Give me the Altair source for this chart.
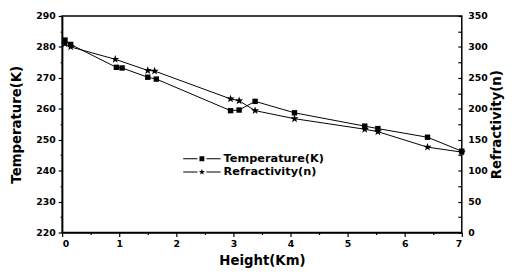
import altair as alt
import pandas as pd

# Temperature series (squares, left axis)
height_t = [0.05, 0.15, 0.95, 1.05, 1.5, 1.65, 2.95, 3.1, 3.38, 4.07, 5.3, 5.53, 6.4, 7.0]
temperature = [282.2, 280.8, 273.4, 273.2, 270.2, 269.6, 259.4, 259.6, 262.4, 258.7, 254.4, 253.6, 250.8, 246.3]

# Refractivity series (stars, right axis)
height_n = [0.05, 0.15, 0.93, 1.5, 1.62, 2.95, 3.1, 3.38, 4.07, 5.3, 5.53, 6.4, 7.0]
refractivity = [305, 300, 280, 262, 261, 216, 213, 197, 184, 167, 163, 138, 130]

legend_labels = ["Temperature(K)", "Refractivity(n)"]

x_ticks = [i * 0.5 for i in range(15)]
t_ticks = [220 + 5 * i for i in range(15)]
n_ticks = [25 * i for i in range(15)]

df_t = pd.DataFrame({"h": height_t, "v": temperature})
df_n = pd.DataFrame({"h": height_n, "v": refractivity})
df_leg = pd.DataFrame({"label": legend_labels})

FONT = "DejaVu Sans"
STAR = ("M0,-1L0.235,-0.324L0.951,-0.309L0.380,0.124L0.588,0.809L0,0.4"
        "L-0.588,0.809L-0.380,0.124L-0.951,-0.309L-0.235,-0.324Z")
DASHES = "M-1,-0.03H-0.24V0.03H-1ZM0.24,-0.03H1V0.03H0.24Z"
LEG_SQ = DASHES + "M-0.13,-0.13H0.13V0.13H-0.13Z"
LEG_STAR = (DASHES +
            "M0,-0.17L0.040,-0.055L0.162,-0.053L0.065,0.021L0.100,0.138L0,0.068"
            "L-0.100,0.138L-0.065,0.021L-0.162,-0.053L-0.040,-0.055Z")

x_enc = alt.X(
    "h:Q",
    scale=alt.Scale(domain=[0, 7], nice=False, zero=False),
    axis=alt.Axis(
        title="Height(Km)", values=x_ticks, grid=False,
        labelExpr="datum.value % 1 === 0 ? format(datum.value, 'd') : ''",
        tickSize={"condition": {"test": "datum.value % 1 === 0", "value": 4}, "value": 2},
        labelPadding=2, titlePadding=6,
    ),
)

temp_chart = alt.Chart(df_t).mark_line(
    color="black", strokeWidth=1,
    point=alt.OverlayMarkDef(shape="square", filled=True, color="black", size=30, opacity=1),
).encode(
    x=x_enc,
    y=alt.Y(
        "v:Q",
        scale=alt.Scale(domain=[220, 290], nice=False, zero=False),
        axis=alt.Axis(
            title="Temperature(K)", orient="left", values=t_ticks, grid=False,
            labelExpr="datum.value % 10 === 0 ? datum.label : ''",
            tickSize={"condition": {"test": "datum.value % 10 === 0", "value": 4}, "value": 2},
            labelPadding=3, titlePadding=12,
        ),
    ),
    order="h:Q",
)

refr_chart = alt.Chart(df_n).mark_line(
    color="black", strokeWidth=1,
    point=alt.OverlayMarkDef(shape=STAR, filled=True, color="black", size=75, opacity=1),
).encode(
    x=x_enc,
    y=alt.Y(
        "v:Q",
        scale=alt.Scale(domain=[0, 350], nice=False, zero=False),
        axis=alt.Axis(
            title="Refractivity(n)", orient="right", values=n_ticks, grid=False,
            labelExpr="datum.value % 50 === 0 ? datum.label : ''",
            tickSize=4, offset=-4, domain=False,
            labelPadding=6, titlePadding=3, titleAngle=270, titleBaseline="top",
        ),
    ),
    order="h:Q",
)


def legend_layer(label, path, field, y):
    return alt.Chart(df_leg).transform_filter("false").transform_calculate(
        **{field: "datum.label"}
    ).mark_point(filled=True, color="black", size=1444, opacity=1).encode(
        shape=alt.Shape(
            f"{field}:N",
            scale=alt.Scale(domain=[label], range=[path]),
            legend=alt.Legend(
                title=None, orient="none", legendX=123, legendY=y,
                symbolSize=1444, symbolFillColor="black", symbolStrokeColor="black",
                symbolStrokeWidth=0, labelFont=FONT, labelFontWeight="bold",
                labelFontSize=11.5, labelColor="black", labelOffset=3, padding=0,
            ),
        )
    )


leg_t = legend_layer(legend_labels[0], LEG_SQ, "lt", 126)
leg_n = legend_layer(legend_labels[1], LEG_STAR, "ln", 139.5)

chart = alt.layer(temp_chart, refr_chart, leg_t, leg_n).resolve_scale(
    y="independent", shape="independent"
).properties(
    width=406, height=220,
    autosize=alt.AutoSizeParams(type="none"),
    padding={"left": 55, "top": 6, "right": 50, "bottom": 39},
    background="white",
).configure_view(
    stroke="black", strokeWidth=1.5
).configure_axis(
    domainColor="black", domainWidth=1.5, tickColor="black", tickWidth=1.2,
    labelFont=FONT, labelFontWeight="bold", labelFontSize=9.5, labelColor="black",
    titleFont=FONT, titleFontWeight="bold", titleFontSize=13.5, titleColor="black",
)

chart.save("out.html", embed_options={"renderer": "svg", "actions": False})
